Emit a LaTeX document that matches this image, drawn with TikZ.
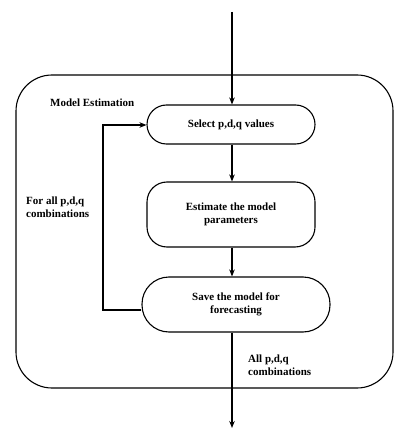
\documentclass[tikz,border=0pt]{standalone}
\usepackage{fontspec}
\setmainfont{Liberation Serif}
\usetikzlibrary{arrows.meta}
\begin{document}
\begin{tikzpicture}[x=1pt,y=-1pt,
  every node/.style={font=\bfseries\fontsize{11}{13}\selectfont, align=center, inner sep=0pt},
  box/.style={draw, line width=1.1pt, minimum width=168pt},
  conn/.style={line width=1.1pt, -{Stealth[length=7pt,width=5.5pt]}},
  lbl/.style={align=left}]
\useasboundingbox (0,0) rectangle (393,430);
\draw[line width=1.1pt, rounded corners=36pt] (16,75) rectangle (393,388);
\node[lbl, anchor=west] (me) at (50,103) {Model Estimation};
\coordinate (top) at (232,12);
\node[box, minimum height=39pt, rounded corners=19.5pt] (sel) at (231,124.5) {Select p,d,q values};
\node[box, minimum height=65pt, rounded corners=20pt] (est) at (231,214.5) {Estimate the model\\parameters};
\node[box, minimum width=188pt, minimum height=55pt, rounded corners=27pt] (sav) at (236,304.5) {Save the model for\\forecasting};
\coordinate (bot) at (232,428);
\coordinate (lb) at (103,310);
\coordinate (lt) at (103,125);
\node[lbl, anchor=west] (fa) at (26,207) {For all p,d,q\\combinations};
\node[lbl, anchor=west] (ac) at (248,365) {All p,d,q\\combinations};
\draw[conn] (top) -- (sel.north -| top);
\draw[conn] (sel.south -| top) -- (est.north -| top);
\draw[conn] (est.south -| top) -- (sav.north -| top);
\draw[conn] (sav.south -| top) -- (bot);
\draw[conn] (sav.west |- lb) -- (lb) -- (lt) -- (sel.west |- lt);
\end{tikzpicture}
\end{document}
